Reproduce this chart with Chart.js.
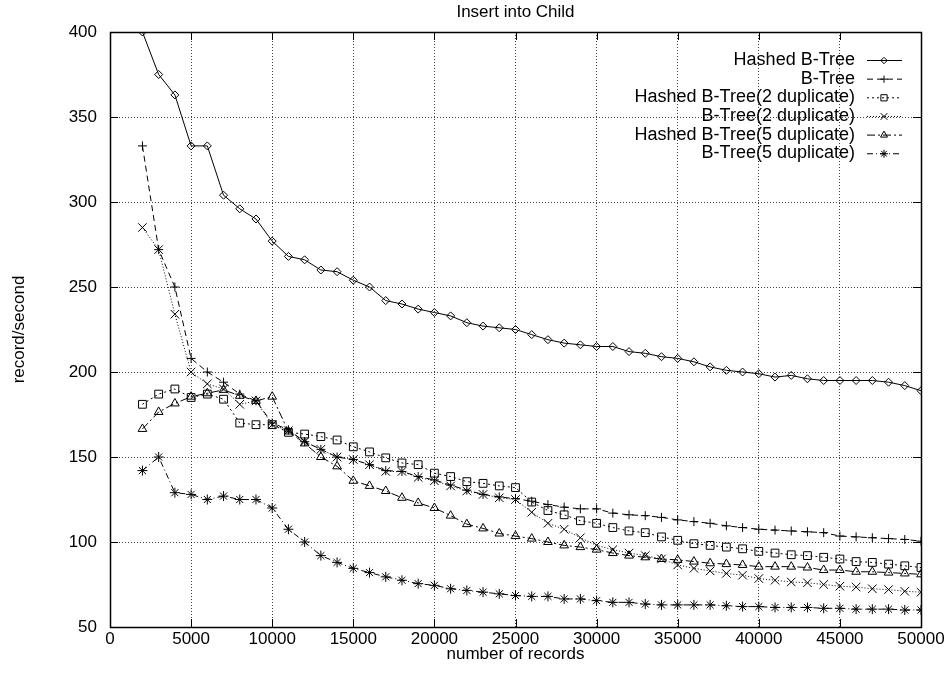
<!DOCTYPE html>
<html>
<head>
<meta charset="utf-8">
<title>Insert into Child</title>
<script src="https://cdn.jsdelivr.net/npm/chart.js@4.4.0/dist/chart.umd.min.js"></script>
<style>
  html, body { margin: 0; padding: 0; background: #fff; }
</style>
</head>
<body>
<canvas id="myChart" width="949" height="675"></canvas>
<script>
// number of records (x values)
const records = [
  2000, 3000, 4000, 5000, 6000, 7000, 8000, 9000, 10000,
  11000, 12000, 13000, 14000, 15000, 16000, 17000, 18000, 19000, 20000,
  21000, 22000, 23000, 24000, 25000, 26000, 27000, 28000, 29000, 30000,
  31000, 32000, 33000, 34000, 35000, 36000, 37000, 38000, 39000, 40000,
  41000, 42000, 43000, 44000, 45000, 46000, 47000, 48000, 49000, 50000
];

// record/second for each series
const hashedBTree = [
  400, 375, 363, 333, 333, 304, 296, 290, 277,
  268, 266, 260, 259, 254, 250, 242, 240, 237, 235,
  233, 229, 227, 226, 225, 222, 219, 217, 216, 215,
  215, 212, 211, 209, 208, 206, 203, 201, 200, 199,
  197, 198, 196, 195, 195, 195, 195, 194, 192, 189
];
const bTree = [
  333, 272, 250, 208, 200, 194, 187, 183, 170,
  166, 159, 154.5, 150, 148.5, 145.5, 142, 141.5, 138.5, 136.5,
  133.5, 130.5, 128, 126.5, 125.5, 124, 122, 120.5, 119.5, 119.5,
  117, 116, 115.5, 114.5, 113, 112, 111, 109.5, 108.5, 107.5,
  107, 106.5, 106, 105.5, 103.5, 103, 102.5, 102, 101.5, 100.5
];
const hashedBTree2 = [
  181, 187, 190, 185, 187, 184, 170, 169, 169,
  164.5, 163.5, 162, 160, 156, 153, 149.5, 146.5, 145.5, 140.5,
  138.5, 135.5, 134.5, 133, 132, 123.5, 118.5, 116, 112.5, 111,
  108.5, 106.5, 105.5, 103, 101, 99, 98, 97, 96, 94.5,
  93.5, 92.5, 92, 91, 90, 88.5, 88, 87, 86, 85
];
const bTree2 = [
  285, 272, 234, 200, 193, 190, 181, 183, 169,
  165.5, 159, 154.5, 150, 148.5, 145.5, 141.5, 141.5, 138, 136,
  133, 130, 128, 126, 125, 117.5, 111, 107.5, 102.5, 98,
  95.5, 93.5, 92, 90, 86.5, 84.5, 83, 81.5, 80.5, 78.5,
  77.5, 76.5, 76, 75, 74, 73.5, 72.5, 72, 71, 70.5
];
const hashedBTree5 = [
  166.5, 176.5, 181.5, 185.5, 187.5, 189.5, 186, 183, 185.5,
  165, 158, 150, 144.5, 136, 133, 130, 126, 123, 120,
  115.5, 110.5, 108, 105, 103.5, 102, 100, 98, 97, 95.5,
  93.5, 92, 91, 90, 89.5, 88.5, 87.5, 87, 86.5, 85.5,
  85.5, 85.5, 85, 83.5, 83.5, 82.5, 82.5, 82, 81.5, 81
];
const bTree5 = [
  142, 150, 129, 128, 125, 127, 125, 125, 120,
  107.5, 100, 92, 88, 84.5, 82, 79.5, 77.5, 75.5, 74.5,
  72.5, 71.5, 70.5, 69.5, 68.5, 68, 68, 66.5, 66.5, 65.5,
  64.5, 64.5, 63.5, 63, 63, 63, 63, 62.5, 62, 62,
  61.5, 61.5, 61.5, 61, 61, 60.5, 60.5, 60.5, 60, 60
];

const yTicks = [50, 100, 150, 200, 250, 300, 350, 400];

const FONT = 'Liberation Sans, Arial, Helvetica, sans-serif';
Chart.defaults.font.family = FONT;
Chart.defaults.font.size = 17;
Chart.defaults.color = '#000';

function series(label, values, style, radius, dash) {
  return {
    label: label,
    data: records.map((x, i) => ({ x: x, y: values[i] })),
    borderColor: '#000',
    backgroundColor: 'rgba(0,0,0,0)',
    borderWidth: 1,
    borderDash: dash,
    pointStyle: style,
    pointRadius: radius,
    pointBorderWidth: 1,
    pointBorderColor: '#000',
    pointBackgroundColor: 'rgba(0,0,0,0)',
    tension: 0,
    fill: false,
  };
}

// box round the plot with inward tics, gnuplot style
const framePlugin = {
  id: 'frame',
  afterDraw(chart) {
    const { ctx, chartArea: a, scales } = chart;
    const x = scales.x, y = scales.y;
    ctx.save();
    ctx.strokeStyle = '#000';
    ctx.setLineDash([]);
    ctx.lineWidth = 1;
    ctx.beginPath();
    x.ticks.forEach((t) => {
      const px = Math.round(x.getPixelForValue(t.value)) + 0.5;
      ctx.moveTo(px, a.bottom); ctx.lineTo(px, a.bottom - 8);
      ctx.moveTo(px, a.top); ctx.lineTo(px, a.top + 8);
    });
    y.ticks.forEach((t) => {
      const py = Math.round(y.getPixelForValue(t.value)) + 0.5;
      ctx.moveTo(a.left, py); ctx.lineTo(a.left + 8, py);
      ctx.moveTo(a.right, py); ctx.lineTo(a.right - 8, py);
    });
    ctx.stroke();
    ctx.lineWidth = 1.5;
    ctx.strokeRect(a.left + 0.5, a.top + 0.5, a.right - a.left, a.bottom - a.top);
    ctx.restore();
  }
};

// key in the top right corner: text, then line sample with its marker
const keyPlugin = {
  id: 'key',
  afterDraw(chart) {
    const ctx = chart.ctx;
    ctx.save();
    ctx.font = '18px ' + FONT;
    ctx.fillStyle = '#000';
    ctx.textAlign = 'right';
    ctx.textBaseline = 'middle';
    chart.data.datasets.forEach((ds, i) => {
      const yy = 60 + i * 18.65;
      ctx.fillText(ds.label, 855, yy);
      ctx.strokeStyle = '#000';
      ctx.lineWidth = 1;
      ctx.setLineDash(ds.borderDash);
      ctx.beginPath();
      ctx.moveTo(867, yy + 0.5);
      ctx.lineTo(902, yy + 0.5);
      ctx.stroke();
      ctx.setLineDash([]);
      ctx.fillStyle = 'rgba(0,0,0,0)';
      if (Chart.helpers && Chart.helpers.drawPoint) {
        Chart.helpers.drawPoint(ctx, {
          pointStyle: ds.pointStyle,
          radius: ds.pointRadius * 0.8,
          rotation: 0,
          borderWidth: 1
        }, 884, yy + 0.5);
      }
      ctx.fillStyle = '#000';
    });
    ctx.restore();
  }
};

const ctx = document.getElementById('myChart');
const myChart = new Chart(ctx, {
  type: 'line',
  data: {
    datasets: [
      series('Hashed B-Tree', hashedBTree, 'rectRot', 4, []),
      series('B-Tree', bTree, 'cross', 4.5, [6, 4]),
      series('Hashed B-Tree(2 duplicate)', hashedBTree2, 'rect', 5.5, [2, 3]),
      series('B-Tree(2 duplicate)', bTree2, 'crossRot', 6, [1, 2]),
      series('Hashed B-Tree(5 duplicate)', hashedBTree5, 'triangle', 5, [8, 3, 2, 3]),
      series('B-Tree(5 duplicate)', bTree5, 'star', 5, [6, 3, 1, 3]),
    ],
  },
  options: {
    responsive: false,
    animation: false,
    layout: { padding: { left: 0, right: 28, top: 0, bottom: 10 } },
    plugins: {
      legend: { display: false },
      tooltip: { enabled: false },
      title: {
        display: true,
        text: 'Insert into Child',
        fullSize: false,
        color: '#000',
        font: { size: 17, weight: 'normal' },
        padding: { top: 2, bottom: 9.6 },
      },
    },
    scales: {
      x: {
        type: 'linear',
        min: 0,
        max: 50000,
        afterFit: (scale) => { scale.height = 38; },
        ticks: {
          stepSize: 5000,
          autoSkip: false,
          maxRotation: 0,
          padding: 2,
          callback: (value) => String(value),
        },
        grid: { color: 'rgba(0,0,0,0.75)', lineWidth: 1, drawTicks: false },
        border: { display: false, dash: [1, 2] },
        title: {
          display: true,
          text: 'number of records',
          padding: { top: 0, bottom: 0 },
        },
      },
      y: {
        type: 'linear',
        min: 50,
        max: 400,
        afterFit: (scale) => { scale.width = 110; },
        afterBuildTicks: (scale) => {
          scale.ticks = yTicks.map((v) => ({ value: v }));
        },
        ticks: { padding: 13 },
        grid: { color: 'rgba(0,0,0,0.75)', lineWidth: 1, drawTicks: false },
        border: { display: false, dash: [1, 2] },
        title: {
          display: true,
          text: 'record/second',
          padding: { top: 9, bottom: 0 },
        },
      },
    },
  },
  plugins: [framePlugin, keyPlugin],
});
</script>
</body>
</html>
